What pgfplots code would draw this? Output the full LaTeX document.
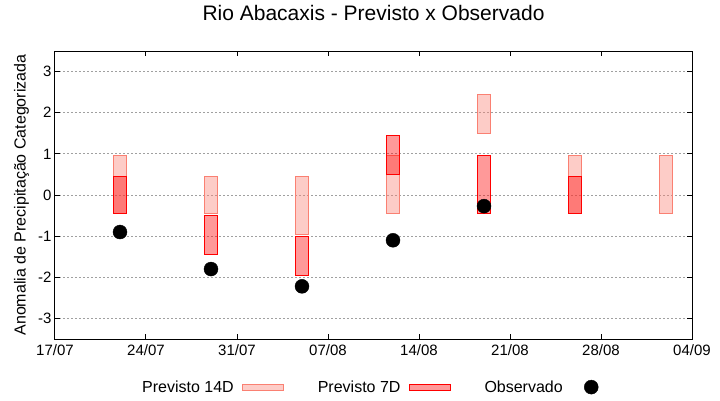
\documentclass[border=0pt]{standalone}
\usepackage{pgfplots}
\pgfplotsset{compat=1.18}
\usepackage{pgfplotstable}
\usepackage{fontspec}
\setmainfont{Liberation Sans}
\definecolor{salmon}{RGB}{250,128,114}
\definecolor{gridgray}{RGB}{160,160,160}

% day 0 = 17/07
\pgfplotstableread{
x lo hi
5 -0.45 0.95
12 -0.45 0.45
19 -0.95 0.45
26 -0.45 0.95
33 1.50 2.45
40 -0.45 0.95
47 -0.45 0.95
}\fourteen
\pgfplotstableread{
x lo hi
5 -0.45 0.45
12 -1.45 -0.50
19 -1.95 -1.00
26 0.50 1.45
33 -0.45 0.95
40 -0.45 0.45
}\seven
\pgfplotstableread{
x y
5 -0.90
12 -1.80
19 -2.22
26 -1.10
33 -0.27
}\obs

\pgfplotsset{base/.style={scale only axis, width=637pt, height=288pt,
  xmin=0, xmax=49, ymin=-3.5, ymax=3.5, at={(0,0)}, anchor=south west},
  obslegend/.style={legend image code/.code={\path[draw=none, fill=none] (0pt,-3pt) rectangle (41pt,3pt);
    \draw[draw=black, fill=black] plot[only marks, mark=*, mark size=7pt] coordinates {(20.5pt,0pt)};}}}

\begin{document}
\begin{tikzpicture}
\useasboundingbox (-55pt,-61pt) rectangle (665pt,339pt);
\begin{axis}[base,
  axis line style={line width=1pt},
  xtick={0,7,...,49},
  xticklabels={17/07,24/07,31/07,07/08,14/08,21/08,28/08,04/09},
  ytick={-3,-2,...,3}, yticklabels={-3,-2,-1,0,1,2,3},
  ymajorgrids, grid style={gridgray, dash pattern=on 2pt off 2pt, line width=0.8pt},
  major tick length=5pt, tick style={line width=1pt, black},
  tick label style={font=\fontsize{15}{15}\selectfont},
  xticklabel style={yshift=-2pt},
  title={Rio Abacaxis - Previsto x Observado},
  title style={font=\fontsize{21}{21}\selectfont, at={(axis description cs:0.5,1)}, anchor=base, yshift=25pt},
  ylabel={Anomalia de Precipitação Categorizada},
  ylabel style={font=\fontsize{16}{16}\selectfont, at={(axis description cs:-0.0526,0.5)}, anchor=center},
  ybar stacked, stack negative=on previous, bar width=0.95,
]
\addplot[draw=none, fill=none] table[x=x, y=lo] {\fourteen};
\addplot[draw=salmon, fill=salmon, fill opacity=0.4, line width=1pt] table[x=x, y expr=\thisrow{hi}-\thisrow{lo}] {\fourteen};
\end{axis}
\begin{axis}[base, hide axis, ybar stacked, stack negative=on previous, bar width=0.95]
\addplot[draw=none, fill=none] table[x=x, y=lo] {\seven};
\addplot[draw=red, fill=red, fill opacity=0.4, line width=1pt] table[x=x, y expr=\thisrow{hi}-\thisrow{lo}] {\seven};
\end{axis}
\begin{axis}[base, hide axis,
  legend plot pos=right,
  legend style={draw=none, fill=none, at={(axis description cs:0.1366,-0.167)}, anchor=west,
    font=\fontsize{16}{16}\selectfont, inner sep=0pt, nodes={inner sep=0pt},
    /tikz/every odd column/.append style={column sep=8pt},
    /tikz/every even column/.append style={column sep=34pt}},
  legend columns=3,
]
\addlegendimage{legend image code/.code={\draw[draw=salmon, fill=salmon, fill opacity=0.4, line width=1pt] (0pt,-3pt) rectangle (41pt,3pt);}}
\addlegendentry{Previsto 14D}
\addlegendimage{legend image code/.code={\draw[draw=red, fill=red, fill opacity=0.4, line width=1pt] (0pt,-3pt) rectangle (41pt,3pt);}}
\addlegendentry{Previsto 7D}
\addplot[only marks, mark=*, mark size=7pt, black, obslegend] table[x=x, y=y] {\obs};
\addlegendentry{Observado}
\end{axis}
\end{tikzpicture}
\end{document}
